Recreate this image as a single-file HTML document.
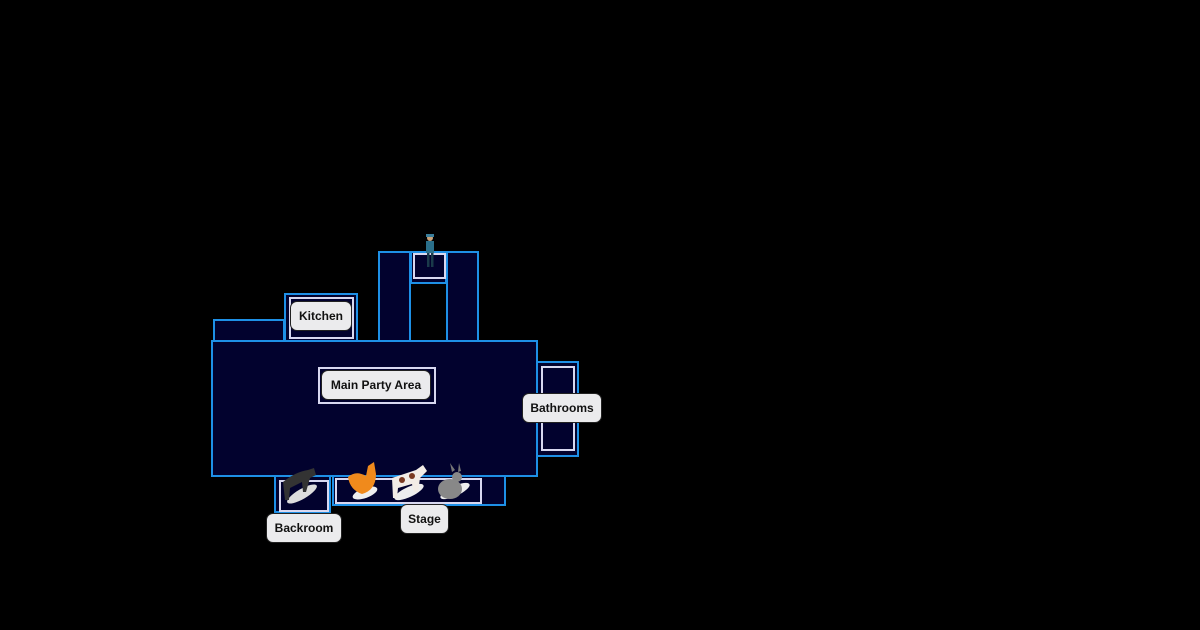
<!DOCTYPE html>
<html><head><style>
html,body{margin:0;padding:0;background:#000;width:1200px;height:630px;overflow:hidden}
.l{position:absolute;background:#ebebed;border:1.5px solid #222;border-radius:7px;font:bold 12px "Liberation Sans",sans-serif;color:#111;display:flex;align-items:center;justify-content:center;box-sizing:border-box}
</style></head><body>
<svg width="1200" height="630" style="position:absolute;left:0;top:0">
<g fill="#02022e" stroke="#1e90e6" stroke-width="2">
<rect x="214" y="320" width="70" height="21"/>
<rect x="285" y="294" width="72" height="47"/>
<rect x="379" y="252" width="31" height="89"/>
<rect x="447" y="252" width="31" height="89"/>
<rect x="411" y="252" width="35" height="31"/>
<rect x="212" y="341" width="325" height="135"/>
<rect x="537" y="362" width="41" height="94"/>
<rect x="275" y="476" width="55" height="36"/>
<rect x="333" y="476" width="172" height="29"/>
</g>
<g fill="none" stroke="#d8d8f0" stroke-width="2">
<rect x="290" y="298" width="63" height="40"/>
<rect x="414" y="254" width="31" height="24"/>
<rect x="319" y="368" width="116" height="35"/>
<rect x="542" y="367" width="32" height="83"/>
<rect x="280" y="481" width="48" height="30"/>
<rect x="336" y="479" width="145" height="24"/>
</g>
<!-- guard -->
<g><circle cx="430" cy="238" r="3" fill="#c9a27a"/><rect x="426" y="234" width="8" height="3" fill="#3a7d9a"/><rect x="426" y="241" width="8" height="12" fill="#2a6f8a"/><rect x="427" y="253" width="2.5" height="14" fill="#1a3a4a"/><rect x="431" y="253" width="2.5" height="14" fill="#1a3a4a"/></g>
<!-- animals -->
<g>
<ellipse cx="302" cy="494" rx="17" ry="5" fill="#ddd" transform="rotate(-30 302 494)"/>
<path d="M283 482 Q295 472 308 470 L314 468 L316 475 L310 478 L306 492 L303 492 L302 482 L290 488 L289 500 L285 500 Z" fill="#333"/>
<ellipse cx="365" cy="493" rx="13" ry="5" fill="#eee" transform="rotate(-20 365 493)"/>
<path d="M348 477 Q356 470 366 476 L368 466 L374 462 L376 474 Q376 490 362 494 Q350 490 348 477 Z" fill="#f08a1c"/>
<ellipse cx="409" cy="492" rx="16" ry="5" fill="#eee" transform="rotate(-25 409 492)"/>
<path d="M392 478 L416 470 L423 465 L427 471 L420 478 L418 492 L414 492 L412 484 L398 488 L397 498 L393 498 Z" fill="#f2ece6"/>
<circle cx="402" cy="480" r="3" fill="#7a3a22"/><circle cx="412" cy="476" r="3" fill="#7a3a22"/>
<ellipse cx="455" cy="491" rx="16" ry="5" fill="#eee" transform="rotate(-25 455 491)"/>
<ellipse cx="450" cy="489" rx="12" ry="10" fill="#888"/>
<circle cx="457" cy="477" r="5" fill="#888"/><path d="M452 472 L450 463 L455 470 Z M458 472 L459 463 L461 471 Z" fill="#777"/>
</g>
</svg>
<div class="l" style="left:290px;top:301px;width:62px;height:30px">Kitchen</div>
<div class="l" style="left:321px;top:370px;width:110px;height:30px">Main Party Area</div>
<div class="l" style="left:522px;top:393px;width:80px;height:30px">Bathrooms</div>
<div class="l" style="left:266px;top:513px;width:76px;height:30px">Backroom</div>
<div class="l" style="left:400px;top:504px;width:49px;height:30px">Stage</div>
</body></html>
